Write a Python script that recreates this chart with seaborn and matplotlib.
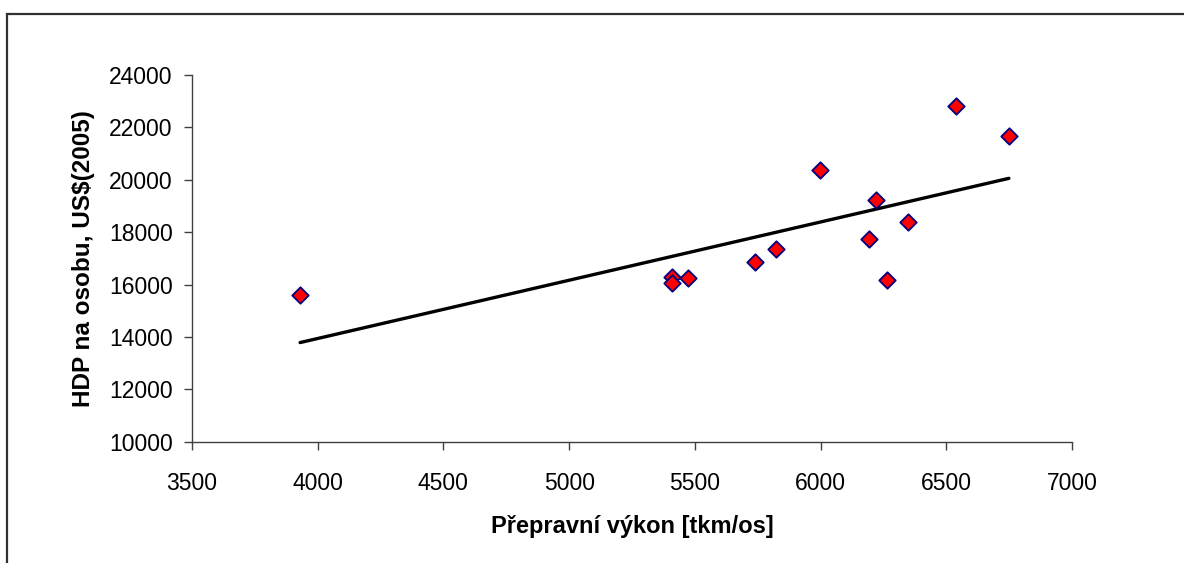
import numpy as np
import pandas as pd
import matplotlib
matplotlib.use("Agg")
import matplotlib.pyplot as plt
from matplotlib.patches import Rectangle
import seaborn as sns

# Data
vykon = [3930, 5408, 5408, 5472, 5740, 5824, 5997, 6194, 6220, 6263, 6349, 6538, 6749]
hdp = [15600, 16275, 16046, 16260, 16870, 17355, 20370, 17740, 19225, 16160, 18400, 22830, 21680]
x_ticks = [3500, 4000, 4500, 5000, 5500, 6000, 6500, 7000]
y_ticks = [10000, 12000, 14000, 16000, 18000, 20000, 22000, 24000]
x_label = "Přepravní výkon [tkm/os]"
y_label = "HDP na osobu, US$(2005)"

df = pd.DataFrame({"x": vykon, "y": hdp})

sns.set_theme(style="white")
plt.rcParams['font.family'] = ['Liberation Sans', 'DejaVu Sans']

fig = plt.figure(figsize=(11.84, 5.63), dpi=100)
ax = fig.add_axes([192/1184, 1 - 441.7/563, (1072-192)/1184, (441.7-75)/563])

# trend line (linear fit over data range)
sns.regplot(data=df, x="x", y="y", ax=ax, ci=None, truncate=True, scatter=False,
            line_kws=dict(color="black", lw=2.4, zorder=2))
sns.scatterplot(data=df, x="x", y="y", ax=ax, marker="D", s=70, color="#ff0000",
                edgecolor="#000080", linewidth=1.3, zorder=3)

ax.set_xlim(3500, 7000)
ax.set_ylim(10000, 24000)
ax.set_xticks(x_ticks)
ax.set_yticks(y_ticks)
ax.tick_params(axis="both", which="major", direction="out", length=6, width=1,
               color="#404040", labelsize=16.5, labelcolor="black",
               bottom=True, left=True)
ax.tick_params(axis="x", pad=16)
ax.tick_params(axis="y", pad=8)
for s in ["top", "right"]:
    ax.spines[s].set_visible(False)
for s in ["left", "bottom"]:
    ax.spines[s].set_color("#404040")
    ax.spines[s].set_linewidth(1.0)
ax.grid(False)

ax.set_xlabel(x_label, fontsize=17, fontweight="bold", labelpad=14, color="black")
ax.set_ylabel(y_label, fontsize=17.5, fontweight="bold", labelpad=10, color="black")

# outer frame (chart area border, partially cut off)
fig.add_artist(Rectangle((7/1184, -0.1), 1.2, 1 - 14/563 + 0.1, transform=fig.transFigure,
                         fill=False, edgecolor="#303030", linewidth=1.6, clip_on=False))

fig.savefig("out.png", dpi=100, facecolor="white")
